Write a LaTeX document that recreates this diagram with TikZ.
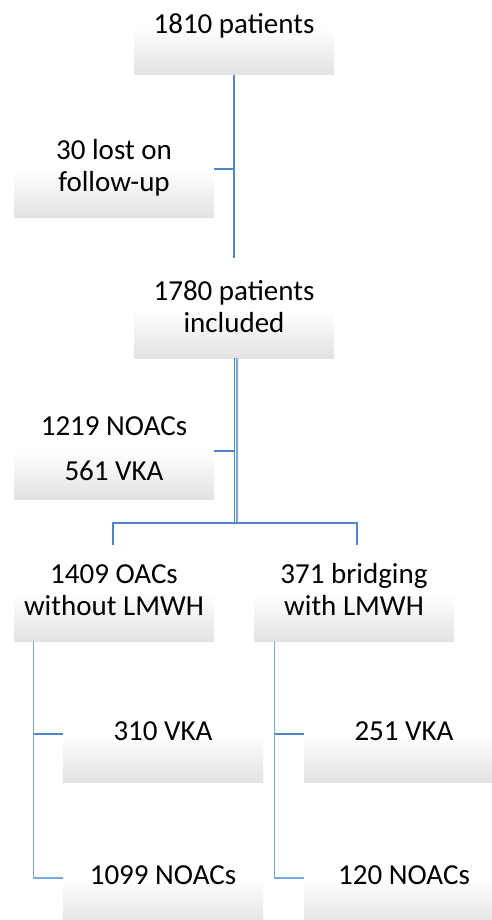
\documentclass[tikz,border=0pt]{standalone}
\usepackage{fontspec}
\setmainfont{Carlito}
\definecolor{boxgrey}{RGB}{226,226,226}
\pgfdeclareverticalshading{boxshade}{100bp}{color(0bp)=(boxgrey); color(25bp)=(boxgrey); color(50bp)=(white); color(100bp)=(white)}
\begin{document}
\begin{tikzpicture}[x=1pt,y=-1pt,
  box/.style={minimum width=200pt,minimum height=96pt,inner sep=0pt,
    align=center,font=\fontsize{29}{32.5}\selectfont,
    shading=boxshade,draw=none},
  conn/.style={draw={rgb,255:red,79;green,134;blue,200},line width=1.3pt},
  connlight/.style={draw={rgb,255:red,120;green,168;blue,220},line width=1.3pt}]
\useasboundingbox (0,0) rectangle (492,920);
\clip (0,0) rectangle (492,920);
% nodes
\node[box] (b1) at (234,27) {\strut 1810 patients};
\node[box] (b2) at (114,169) {\strut 30 lost on\\\strut follow-up};
\node[box] (b3) at (234,310) {\strut 1780 patients\\\strut included};
\node[box] (b4) at (114,451) {\strut 1219 NOACs\\[12.5pt]\strut 561 VKA};
\node[box] (b5) at (114,593) {\strut 1409 OACs\\\strut without LMWH};
\node[box] (b6) at (354,593) {\strut 371 bridging\\\strut with LMWH};
\node[box] (b7) at (163,734) {\strut 310 VKA};
\node[box] (b8) at (163,878) {\strut 1099 NOACs};
\node[box] (b9) at (404,734) {\strut 251 VKA};
\node[box] (b10) at (404,878) {\strut 120 NOACs};
% coordinates
\coordinate (c1) at (234,258);
\coordinate (h) at (234,523);
\coordinate (l) at ([xshift=20pt]b5.south west);
\coordinate (r) at ([xshift=21pt]b6.south west);
% connectors
\path[conn] (b1.south) -- (c1);
\path[conn] (b2.east) -- (b2.east -| b1.south);
\path[conn] ([xshift=0.3pt]b3.south) -- ([xshift=0.3pt]h);
\path[connlight] ([xshift=3pt]b3.south) -- ([xshift=3pt]h);
\path[conn] (b4.east) -- (b4.east -| b3.south);
\path[conn] ([xshift=-1pt]b5.north) -- ([xshift=-1pt]b5.north |- h) -- ([xshift=3pt]b6.north |- h) -- ([xshift=3pt]b6.north);
\path[conn] (l) |- (b7.west);
\path[connlight] (l) |- (b8.west);
\path[conn] (r) |- (b9.west);
\path[connlight] (r) |- (b10.west);
\end{tikzpicture}
\end{document}
